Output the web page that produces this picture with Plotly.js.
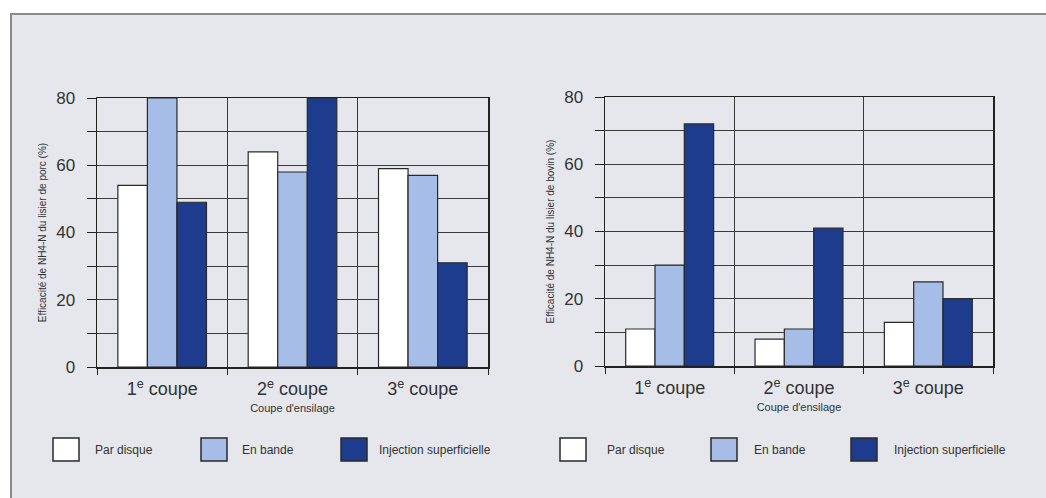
<!DOCTYPE html>
<html>
<head>
<meta charset="utf-8">
<script src="https://cdn.plot.ly/plotly-3.0.1.min.js"></script>
<style>html,body{margin:0;padding:0;background:#fff;}#chart{width:1046px;height:498px;}</style>
</head>
<body>
<div id="chart"></div>
<script>
// ---- data ----
var categories = ['1<sup>e</sup> coupe', '2<sup>e</sup> coupe', '3<sup>e</sup> coupe'];
var seriesNames = ['Par disque', 'En bande', 'Injection superficielle'];
var seriesColors = ['#ffffff', '#a6bde8', '#1e3c8e'];

var porcParDisque = [54, 64, 59];
var porcEnBande = [80, 58, 57];
var porcInjection = [49, 80, 31];

var bovinParDisque = [11, 8, 13];
var bovinEnBande = [30, 11, 25];
var bovinInjection = [72, 41, 20];

var yTickVals = [0, 20, 40, 60, 80];

var yTitlePorc = 'Efficacité de NH4-N du lisier de porc (%)';
var yTitleBovin = 'Efficacité de NH4-N du lisier de bovin (%)';
var xTitle = "Coupe d'ensilage";

// ---- chart ----
var W = 1046, H = 498;
function px(x) { return x / W; }
function py(y) { return 1 - y / H; }

var porc = [porcParDisque, porcEnBande, porcInjection];
var bovin = [bovinParDisque, bovinEnBande, bovinInjection];
var traces = [];
for (var i = 0; i < 3; i++) {
  traces.push({type: 'bar', x: categories, y: porc[i], name: seriesNames[i],
    xaxis: 'x', yaxis: 'y', showlegend: false,
    marker: {color: seriesColors[i], line: {color: '#2a2a2a', width: 1.2}}});
}
for (var j = 0; j < 3; j++) {
  traces.push({type: 'bar', x: categories, y: bovin[j], name: seriesNames[j],
    xaxis: 'x2', yaxis: 'y2', showlegend: false,
    marker: {color: seriesColors[j], line: {color: '#2a2a2a', width: 1.2}}});
}

var font = 'Liberation Sans, Arial, sans-serif';
function xax(domain, anchor) {
  return {domain: domain, anchor: anchor, type: 'category',
    tickson: 'boundaries', showgrid: true, gridcolor: '#3a3a3a', gridwidth: 1,
    showline: true, mirror: true, linecolor: '#222', linewidth: 1.5,
    ticks: 'outside', ticklen: 6, tickcolor: '#222', ticklabelstandoff: 5,
    tickfont: {family: font, size: 18, color: '#333'},
    title: {text: xTitle, font: {family: font, size: 11, color: '#333'}, standoff: 6},
    fixedrange: true};
}
function yax(domain, anchor, title) {
  return {domain: domain, anchor: anchor, range: [0, 80],
    tickmode: 'array', tickvals: yTickVals,
    showgrid: true, gridcolor: '#3a3a3a', gridwidth: 1, zeroline: false,
    showline: true, mirror: true, linecolor: '#222', linewidth: 1.5,
    ticks: 'outside', ticklen: 9, tickcolor: '#222', ticklabelstandoff: 8,
    minor: {dtick: 10, showgrid: true, gridcolor: '#3a3a3a', gridwidth: 1, ticks: 'outside', ticklen: 9, tickcolor: '#222'},
    tickfont: {family: font, size: 17, color: '#333'},
    title: {text: title, font: {family: font, size: 10, color: '#333'}, standoff: 7},
    fixedrange: true};
}

var shapes = [{type: 'rect', xref: 'paper', yref: 'paper', layer: 'below',
  x0: px(11), x1: 1.02, y0: -0.02, y1: py(14),
  fillcolor: '#e5e7ec', line: {color: '#8a8a8a', width: 2}}];
var annotations = [];
var boxLeft = [53, 201, 341, 560, 711, 851];
var textLeft = [93, 240, 377, 605, 752, 892];
for (var k = 0; k < 6; k++) {
  var s = k % 3;
  shapes.push({type: 'rect', xref: 'paper', yref: 'paper',
    x0: px(boxLeft[k]), x1: px(boxLeft[k] + 26), y0: py(461), y1: py(438),
    fillcolor: seriesColors[s], line: {color: '#2a2a2a', width: 1.5}});
  annotations.push({xref: 'paper', yref: 'paper', x: px(textLeft[k]), y: py(450),
    xanchor: 'left', yanchor: 'middle', showarrow: false, text: seriesNames[s],
    font: {family: font, size: 12, color: '#333'}});
}

var layout = {
  width: W, height: H,
  margin: {l: 0, r: 0, t: 0, b: 0},
  paper_bgcolor: '#ffffff', plot_bgcolor: 'rgba(0,0,0,0)',
  barmode: 'group', bargap: 0.32, bargroupgap: 0,
  showlegend: false,
  xaxis: xax([px(97), px(488)], 'y'),
  yaxis: yax([py(367), py(98)], 'x', yTitlePorc),
  xaxis2: xax([px(605), px(993)], 'y2'),
  yaxis2: yax([py(366), py(97)], 'x2', yTitleBovin),
  shapes: shapes,
  annotations: annotations
};

Plotly.newPlot('chart', traces, layout, {displayModeBar: false, staticPlot: true});
</script>
</body>
</html>
